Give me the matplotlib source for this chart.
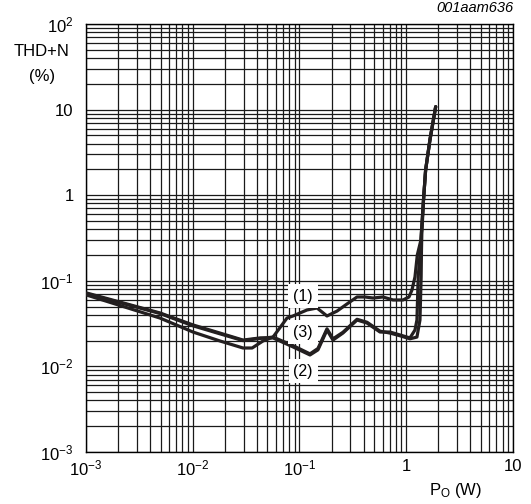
import numpy as np
import matplotlib
matplotlib.use("Agg")
import matplotlib.pyplot as plt
from matplotlib.ticker import LogLocator, FixedLocator, FixedFormatter, NullFormatter

plt.rcParams["font.family"] = ["Liberation Sans", "DejaVu Sans"]
plt.rcParams["mathtext.default"] = "regular"

# THD+N (%) against output power (W), three supply conditions
po_1 = [0.00102, 0.00493, 0.01005, 0.018, 0.0296, 0.036, 0.0455, 0.0565, 0.0764, 0.0869,
        0.1012, 0.1175, 0.146, 0.181, 0.225, 0.2786, 0.346, 0.411, 0.489, 0.605,
        0.752, 0.933, 1.062, 1.132, 1.208, 1.27, 1.374, 1.452, 1.52, 1.668, 1.888]
thd_1 = [0.068, 0.0367, 0.0252, 0.0198, 0.0164, 0.0164, 0.0198, 0.022, 0.0367, 0.0388,
         0.0421, 0.0456, 0.0481, 0.0388, 0.0443, 0.0536, 0.0647, 0.0647, 0.0629, 0.0647,
         0.0597, 0.0597, 0.0647, 0.0781, 0.111, 0.2, 0.300, 0.88, 1.97, 4.42, 10.8]

po_2 = [0.00102, 0.00493, 0.01005, 0.018, 0.0296, 0.0427, 0.0565, 0.0869, 0.1254, 0.149,
        0.181, 0.206, 0.255, 0.346, 0.429, 0.568, 0.705, 0.873, 1.084, 1.208,
        1.26, 1.295, 1.345, 1.374, 1.452, 1.52, 1.668, 1.888]
thd_2 = [0.0719, 0.0421, 0.0305, 0.0245, 0.0203, 0.0215, 0.0215, 0.0169, 0.0136, 0.0156,
         0.0266, 0.0203, 0.0245, 0.0348, 0.0321, 0.0252, 0.0252, 0.0233, 0.0215, 0.0266,
         0.0348, 0.111, 0.200, 0.300, 0.88, 1.97, 4.42, 10.8]

po_3 = [0.00102, 0.00493, 0.01005, 0.018, 0.0296, 0.0427, 0.0565, 0.0869, 0.1254, 0.149,
        0.181, 0.206, 0.255, 0.346, 0.429, 0.568, 0.705, 0.873, 1.084, 1.26,
        1.345, 1.38, 1.39, 1.40, 1.452, 1.52, 1.668, 1.888]
thd_3 = [0.0705, 0.0415, 0.0298, 0.0240, 0.0200, 0.0212, 0.0220, 0.0175, 0.0140, 0.0162,
         0.0275, 0.0210, 0.0250, 0.0355, 0.0328, 0.0258, 0.0245, 0.0228, 0.0210, 0.0220,
         0.0348, 0.111, 0.229, 0.35, 0.88, 1.97, 4.42, 10.8]

curve_labels = ["(1)", "(3)", "(2)"]
label_po = [0.108, 0.108, 0.108]
label_thd = [0.0664, 0.0252, 0.0088]

x_ticks = [1e-3, 1e-2, 1e-1, 1, 10]
x_ticklabels = ["$10^{-3}$", "$10^{-2}$", "$10^{-1}$", "1", "10"]
y_ticks = [1e-3, 1e-2, 1e-1, 1, 10, 100]
y_ticklabels = ["$10^{-3}$", "$10^{-2}$", "$10^{-1}$", "1", "10", "$10^{2}$"]

fig = plt.figure(figsize=(5.31, 5.04), dpi=100)
ax = fig.add_axes([0.162, 0.1032, 0.804, 0.8492])
ax.set_xscale("log")
ax.set_yscale("log")
ax.set_xlim(1e-3, 10)
ax.set_ylim(1e-3, 100)

ax.xaxis.set_major_locator(FixedLocator(x_ticks))
ax.xaxis.set_major_formatter(FixedFormatter(x_ticklabels))
ax.yaxis.set_major_locator(FixedLocator(y_ticks))
ax.yaxis.set_major_formatter(FixedFormatter(y_ticklabels))
ax.xaxis.set_minor_locator(LogLocator(base=10, subs=np.arange(2, 10), numticks=20))
ax.yaxis.set_minor_locator(LogLocator(base=10, subs=np.arange(2, 10), numticks=20))
ax.xaxis.set_minor_formatter(NullFormatter())
ax.yaxis.set_minor_formatter(NullFormatter())

ax.grid(True, which="both", color="#1a1a1a", linewidth=0.9)
ax.tick_params(which="both", length=0, labelsize=12)
ax.tick_params(axis="y", pad=9)
ax.tick_params(axis="x", pad=5)
for s in ax.spines.values():
    s.set_linewidth(1.0)
    s.set_color("black")

for po, thd in [(po_1, thd_1), (po_2, thd_2), (po_3, thd_3)]:
    ax.plot(po, thd, color="#231f20", linewidth=2.3, solid_joinstyle="round",
            solid_capstyle="round", zorder=3)

for txt, xv, yv in zip(curve_labels, label_po, label_thd):
    ax.text(xv, yv, txt, ha="center", va="center", fontsize=11.5, zorder=4,
            bbox=dict(facecolor="white", edgecolor="none", pad=3.5))

fig.text(42 / 531, 1 - 52 / 504, "THD+N", ha="center", va="center", fontsize=12)
fig.text(42 / 531, 1 - 77 / 504, "(%)", ha="center", va="center", fontsize=12)
fig.text(456 / 531, 1 - 491 / 504, "P$_{O}$ (W)", ha="center", va="center", fontsize=12)
fig.text(513 / 531, 1 - 8 / 504, "001aam636", ha="right", va="center",
         fontsize=10.5, style="italic")

fig.savefig("out.png", dpi=100)
